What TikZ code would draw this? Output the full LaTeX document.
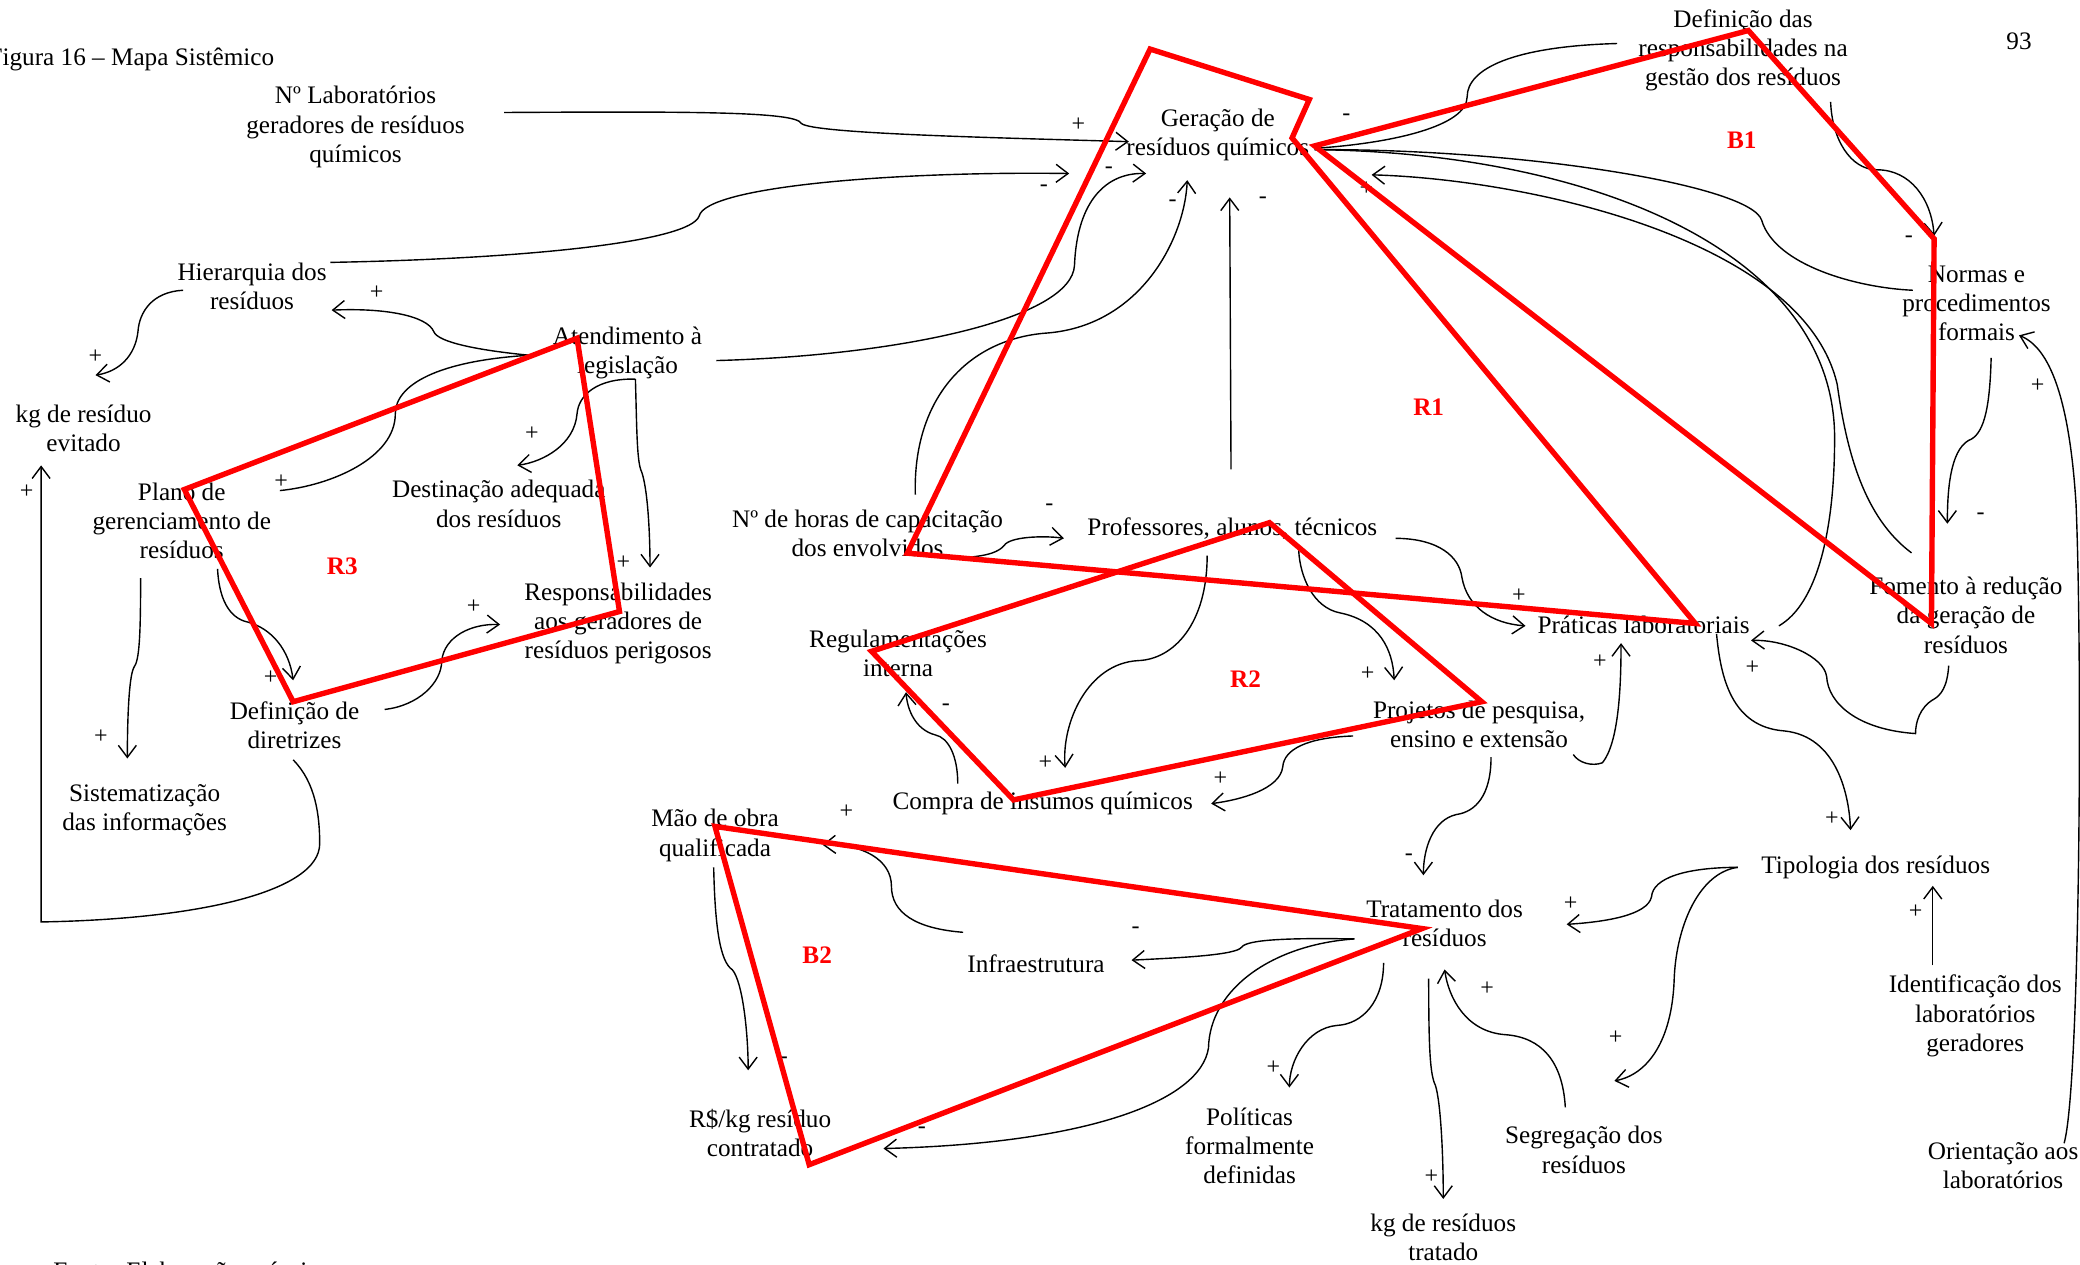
\documentclass[tikz,border=0pt]{standalone}
\usepackage{fontspec}
\setmainfont{Liberation Serif}
\usetikzlibrary{arrows.meta,calc}
\begin{document}
\begin{tikzpicture}[x=0.66327pt,y=-0.66327pt,
  lbl/.style={align=center,inner sep=0pt,yshift=-1.2pt,font=\fontsize{12.6}{14.6}\selectfont},
  link/.style={line width=0.7pt},
  arr/.style={line width=0.7pt,-{Straight Barb[length=6pt,width=9pt]}},
  sgn/.style={inner sep=0pt,font=\fontsize{12}{12}\selectfont},
  loopline/.style={draw=red,line width=2.7pt,line join=miter},
  looptag/.style={text=red,inner sep=0pt,font=\bfseries\fontsize{12.6}{14}\selectfont}]
\useasboundingbox (0,0) rectangle (1568,953);

% page furniture
\node[lbl,anchor=east] (title) at (207,43) {Figura 16 -- Mapa Sistêmico};
\node[lbl] (pg) at (1522,29) {93};
\node[lbl,anchor=base west] (src) at (40,963) {Fonte: Elaboração própria};

% variables
\node[lbl] (lab)    at (268,94)  {Nº Laboratórios\\geradores de resíduos\\químicos};
\node[lbl] (ger)    at (918,100) {Geração de\\resíduos químicos};
\node[lbl] (defr)   at (1314,36) {Definição das\\responsabilidades na\\gestão dos resíduos};
\node[lbl] (hier)   at (190,214) {Hierarquia dos\\resíduos};
\node[lbl] (kgev)   at (63,321)  {kg de resíduo\\evitado};
\node[lbl] (atd)    at (473,264) {Atendimento à\\legislação};
\node[lbl] (plano)  at (137,391) {Plano de\\gerenciamento de\\resíduos};
\node[lbl] (dest)   at (376,378) {Destinação adequada\\dos resíduos};
\node[lbl] (resp)   at (466,468) {Responsabilidades\\aos geradores de\\resíduos perigosos};
\node[lbl] (defd)   at (222,545) {Definição de\\diretrizes};
\node[lbl] (sist)   at (109,609) {Sistematização\\das informações};
\node[lbl] (horas)  at (654,400) {Nº de horas de capacitação\\dos envolvidos};
\node[lbl] (prof)   at (929,397) {Professores, alunos, técnicos};
\node[lbl] (prat)   at (1239,469) {Práticas laboratoriais};
\node[lbl] (normas) at (1490,227) {Normas e\\procedimentos\\formais};
\node[lbl] (fom)    at (1482,462) {Fomento à redução\\da geração de\\resíduos};
\node[lbl] (reg)    at (677,491) {Regulamentações\\interna};
\node[lbl] (proj)   at (1115,544) {Projetos de pesquisa,\\ensino e extensão};
\node[lbl] (compra) at (786,604) {Compra de insumos químicos};
\node[lbl] (mao)    at (539,628) {Mão de obra\\qualificada};
\node[lbl] (tip)    at (1414,652) {Tipologia dos resíduos};
\node[lbl] (trat)   at (1089,694) {Tratamento dos\\resíduos};
\node[lbl] (infra)  at (781,725) {Infraestrutura};
\node[lbl] (ident)  at (1489,764) {Identificação dos\\laboratórios\\geradores};
\node[lbl] (rs)     at (573,852) {R\$/kg resíduo\\contratado};
\node[lbl] (pol)    at (942,862) {Políticas\\formalmente\\definidas};
\node[lbl] (seg)    at (1194,865) {Segregação dos\\resíduos};
\node[lbl] (orient) at (1510,877) {Orientação aos\\laboratórios};
\node[lbl] (kgtr)   at (1088,931) {kg de resíduos\\tratado};

% causal links
\draw[arr] ($(lab)+(112,-11)$) .. controls (520,84) and (600,84) .. (604,93) .. controls (612,101) and (760,104) .. ($(ger)+(-67,5)$);
\draw[arr] ($(hier)+(59,-18)$) .. controls (400,195) and (520,182) .. (527,163) .. controls (532,140) and (680,129) .. ($(ger)+(-112,29)$);
\draw[arr] ($(atd)+(67,6)$) .. controls (680,268) and (808,240) .. (810,200) .. controls (812,150) and (835,130) .. ($(ger)+(-54,29)$);
\draw[arr] ($(horas)+(36,-29)$) .. controls (688,300) and (730,255) .. (790,251) .. controls (860,245) and (893,180) .. ($(ger)+(-23,34)$);
\draw[arr] ($(prof)+(-1,-45)$) -- ($(ger)+(9,47)$);
\draw[link] ($(defr)+(-95,-5)$) .. controls (1140,35) and (1106,52) .. (1106,73) .. controls (1106,95) and (1050,108) .. ($(ger)+(73,10)$);
\draw[link] ($(normas)+(-48,-10)$) .. controls (1400,217) and (1338,200) .. (1328,166) .. controls (1320,140) and (1150,112) .. ($(ger)+(73,11)$);
\draw[link] ($(prat)+(102,1)$) .. controls (1370,455) and (1383,400) .. (1383,330) .. controls (1383,190) and (1200,115) .. ($(ger)+(73,11)$);
\draw[arr] ($(fom)+(-41,-47)$) .. controls (1405,390) and (1392,340) .. (1385,290) .. controls (1360,180) and (1150,135) .. ($(ger)+(116,30)$);
\draw[arr] ($(defr)+(66,39)$) .. controls (1381,105) and (1395,128) .. (1415,128) .. controls (1440,128) and (1456,150) .. ($(normas)+(-32,-51)$);
\draw[arr] ($(normas)+(11,41)$) .. controls (1500,310) and (1495,328) .. (1484,332) .. controls (1470,340) and (1468,370) .. ($(fom)+(-14,-69)$);
\draw[arr] ($(orient)+(46,-17)$) .. controls (1568,820) and (1570,500) .. (1565,380) .. controls (1560,300) and (1545,262) .. ($(normas)+(32,24)$);
\draw[arr] ($(fom)+(-13,38)$) .. controls (1468,518) and (1463,524) .. (1458,527) .. controls (1447,533) and (1444,545) .. (1444,553) .. controls (1400,550) and (1378,530) .. (1377,510) .. controls (1375,495) and (1345,482) .. ($(prat)+(81,12)$);
\draw[arr] ($(prat)+(55,7)$) .. controls (1297,510) and (1305,548) .. (1345,551) .. controls (1385,555) and (1394,600) .. ($(tip)+(-19,-28)$);
\draw[arr] ($(ident)+(-32,-38)$) -- ($(tip)+(43,14)$);
\draw[arr] ($(tip)+(-104,0)$) .. controls (1270,654) and (1246,662) .. (1245,676) .. controls (1242,690) and (1210,695) .. ($(trat)+(92,1)$);
\draw[arr] ($(tip)+(-104,0)$) .. controls (1280,658) and (1263,700) .. (1262,740) .. controls (1260,785) and (1242,810) .. ($(seg)+(23,-52)$);
\draw[arr] ($(seg)+(-14,-32)$) .. controls (1178,800) and (1162,782) .. (1135,780) .. controls (1105,778) and (1092,752) .. ($(trat)+(0,35)$);
\draw[arr] ($(trat)+(-12,42)$) .. controls (1077,790) and (1078,810) .. (1082,818) .. controls (1086,830) and (1088,870) .. ($(kgtr)+(0,-29)$);
\draw[arr] ($(trat)+(-46,30)$) .. controls (1043,755) and (1027,772) .. (1008,773) .. controls (985,775) and (972,800) .. ($(pol)+(30,-44)$);
\draw[arr] ($(trat)+(-68,12)$) .. controls (975,707) and (940,708) .. (936,714) .. controls (932,720) and (890,722) .. ($(infra)+(72,-3)$);
\draw[arr] ($(trat)+(-68,12)$) .. controls (960,712) and (912,745) .. (911,790) .. controls (905,830) and (820,862) .. ($(rs)+(93,12)$);
\draw[arr] ($(infra)+(-55,-24)$) .. controls (690,700) and (672,688) .. (672,668) .. controls (672,648) and (650,636) .. ($(mao)+(81,7)$);
\draw[arr] ($(mao)+(-1,24)$) .. controls (539,700) and (543,725) .. (552,731) .. controls (560,740) and (564,780) .. ($(rs)+(-9,-47)$);
\draw[arr] ($(proj)+(71,23)$) .. controls (1190,575) and (1200,578) .. (1208,575) .. controls (1220,560) and (1222,520) .. ($(prat)+(-17,14)$);
\draw[arr] ($(proj)+(9,25)$) .. controls (1124,600) and (1112,612) .. (1098,614) .. controls (1080,618) and (1073,640) .. ($(trat)+(-16,-36)$);
\draw[arr] ($(proj)+(-95,9)$) .. controls (985,556) and (968,565) .. (967,578) .. controls (965,595) and (935,603) .. ($(compra)+(127,0)$);
\draw[arr] ($(compra)+(-64,-15)$) .. controls (722,570) and (715,556) .. (705,554) .. controls (690,550) and (684,535) .. ($(reg)+(6,29)$);
\draw[arr] ($(prof)+(-19,20)$) .. controls (910,470) and (885,497) .. (858,498) .. controls (820,500) and (800,545) .. ($(compra)+(17,-27)$);
\draw[arr] ($(prof)+(50,16)$) .. controls (980,435) and (990,458) .. (1010,462) .. controls (1040,468) and (1050,490) .. ($(proj)+(-64,-33)$);
\draw[arr] ($(prof)+(123,7)$) .. controls (1085,406) and (1100,420) .. (1102,435) .. controls (1106,458) and (1125,470) .. ($(prat)+(-89,1)$);
\draw[arr] ($(horas)+(79,18)$) .. controls (750,418) and (755,414) .. (758,410) .. controls (765,404) and (790,404) .. ($(prof)+(-127,7)$);
\draw[arr] ($(atd)+(-74,2)$) .. controls (360,264) and (330,258) .. (327,250) .. controls (322,238) and (290,232) .. ($(hier)+(60,18)$);
\draw[link] ($(atd)+(-74,2)$) .. controls (330,272) and (298,290) .. (298,312) .. controls (298,345) and (250,366) .. ($(plano)+(74,-23)$);
\draw[arr] ($(atd)+(6,20)$) .. controls (450,285) and (436,298) .. (435,312) .. controls (433,335) and (410,348) .. ($(dest)+(14,-29)$);
\draw[arr] ($(atd)+(6,20)$) .. controls (480,320) and (480,345) .. (483,354) .. controls (488,365) and (490,400) .. ($(resp)+(24,-42)$);
\draw[arr] ($(hier)+(-52,3)$) .. controls (115,220) and (105,235) .. (104,250) .. controls (102,268) and (90,280) .. ($(kgev)+(9,-40)$);
\draw[arr] ($(plano)+(27,36)$) .. controls (165,450) and (172,466) .. (187,469) .. controls (205,474) and (218,490) .. ($(defd)+(-1,-34)$);
\draw[arr] ($(plano)+(-31,43)$) .. controls (106,480) and (105,498) .. (101,503) .. controls (97,510) and (96,545) .. ($(sist)+(-13,-39)$);
\draw[arr] ($(defd)+(68,-12)$) .. controls (315,532) and (333,515) .. (333,498) .. controls (335,480) and (355,470) .. ($(resp)+(-89,1)$);
\draw[arr] ($(defd)+(-1,26)$) .. controls (238,590) and (241,615) .. (241,636) .. controls (241,672) and (150,693) .. (31,695) -- ($(kgev)+(-32,28)$);

% link polarities
\node[sgn] (p1)  at (813,94)   {+};
\node[sgn] (p2)  at (787,142)  {-};
\node[sgn] (p3)  at (836,128)  {-};
\node[sgn] (p4)  at (884,153)  {-};
\node[sgn] (p5)  at (952,151)  {-};
\node[sgn] (p6)  at (1015,88)  {-};
\node[sgn] (p7)  at (1030,142) {+};
\node[sgn] (p8)  at (1439,180) {-};
\node[sgn] (p9)  at (1493,389) {-};
\node[sgn] (p10) at (1536,291) {+};
\node[sgn] (p11) at (1145,449) {+};
\node[sgn] (p12) at (1206,499) {+};
\node[sgn] (p13) at (1321,503) {+};
\node[sgn] (p14) at (1381,617) {+};
\node[sgn] (p15) at (1444,687) {+};
\node[sgn] (p16) at (1184,681) {+};
\node[sgn] (p17) at (1121,745) {+};
\node[sgn] (p18) at (1218,782) {+};
\node[sgn] (p19) at (1079,887) {+};
\node[sgn] (p20) at (960,805)  {+};
\node[sgn] (p21) at (856,701)  {-};
\node[sgn] (p22) at (695,852)  {-};
\node[sgn] (p23) at (638,612)  {+};
\node[sgn] (p24) at (591,799)  {-};
\node[sgn] (p25) at (1062,646) {-};
\node[sgn] (p26) at (1031,508) {+};
\node[sgn] (p27) at (920,587)  {+};
\node[sgn] (p28) at (788,575)  {+};
\node[sgn] (p29) at (713,533)  {-};
\node[sgn] (p30) at (791,382)  {-};
\node[sgn] (p31) at (284,221)  {+};
\node[sgn] (p32) at (72,269)   {+};
\node[sgn] (p33) at (401,327)  {+};
\node[sgn] (p34) at (212,363)  {+};
\node[sgn] (p35) at (470,424)  {+};
\node[sgn] (p36) at (204,511)  {+};
\node[sgn] (p37) at (357,457)  {+};
\node[sgn] (p38) at (76,555)   {+};
\node[sgn] (p39) at (20,371)   {+};

% feedback loops
\draw[loopline] (867,37) -- (987,75) -- (974,104) -- (1278,470) -- (684,417) -- cycle;
\draw[loopline] (991,110) -- (1318,23) -- (1458,180) -- (1456,470) -- cycle;
\draw[loopline] (957,394) -- (1117,529) -- (764,603) -- (657,491) -- cycle;
\draw[loopline] (435,255) -- (467,461) -- (221,529) -- (139,369) -- cycle;
\draw[loopline] (539,623) -- (1072,700) -- (610,878) -- cycle;
\node[looptag] (tB1) at (1313,106) {B1};
\node[looptag] (tR1) at (1077,307) {R1};
\node[looptag] (tR3) at (258,427)  {R3};
\node[looptag] (tR2) at (939,512)  {R2};
\node[looptag] (tB2) at (616,720)  {B2};
\end{tikzpicture}
\end{document}
